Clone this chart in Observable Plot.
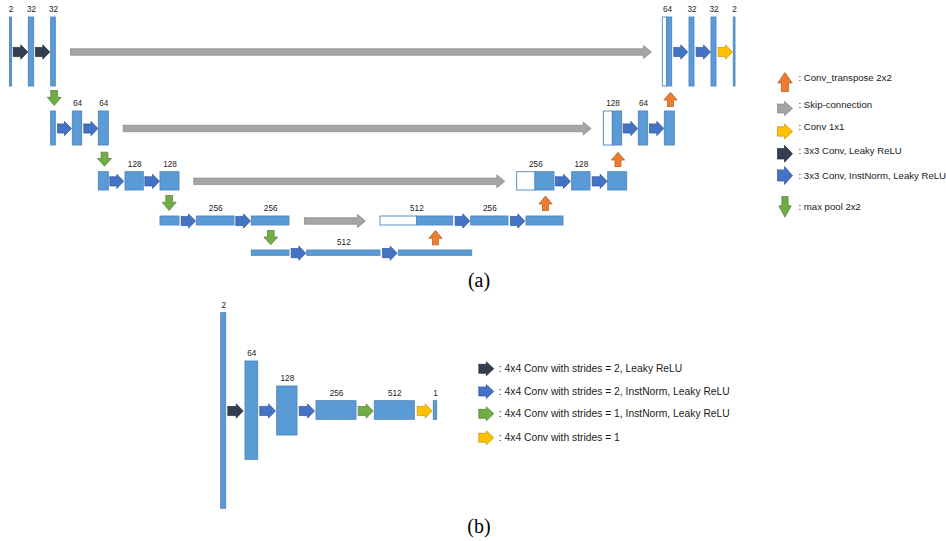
<!DOCTYPE html>
<html><head><meta charset="utf-8">
<script src="https://cdn.jsdelivr.net/npm/d3@7"></script>
<script src="https://cdn.jsdelivr.net/npm/@observablehq/plot@0.6"></script>
<style>body{margin:0;background:#fff}</style>
</head><body><div id="chart"></div>
<script>
// ---------- (a) U-Net generator ----------
const levelTop    = [17, 111, 171.7, 216, 250];
const levelBottom = [86, 145, 190, 225, 255.3];

// feature-map blocks: level, left, right, channels; "split" = end of the white (skip) part
const uBlocks = [
  {lv:0, x1:9.5,   x2:11.5,  label:"2"},
  {lv:0, x1:28.3,  x2:33.7,  label:"32"},
  {lv:0, x1:50.7,  x2:55.3,  label:"32"},
  {lv:0, x1:662.3, split:666.7, x2:671.7, label:"64"},
  {lv:0, x1:689,   x2:694,   label:"32"},
  {lv:0, x1:711,   x2:716,   label:"32"},
  {lv:0, x1:733.3, x2:735,   label:"2"},
  {lv:1, x1:50.7,  x2:55.3,  label:""},
  {lv:1, x1:72.3,  x2:81.7,  label:"64"},
  {lv:1, x1:98.3,  x2:108.3, label:"64"},
  {lv:1, x1:603.3, split:612.3, x2:621.7, label:"128"},
  {lv:1, x1:638.3, x2:647.7, label:"64"},
  {lv:1, x1:664.3, x2:674.3, label:""},
  {lv:2, x1:98.3,  x2:108.3, label:""},
  {lv:2, x1:125,   x2:143.3, label:"128"},
  {lv:2, x1:160,   x2:179,   label:"128"},
  {lv:2, x1:516.7, split:535, x2:554, label:"256"},
  {lv:2, x1:571.7, x2:590,   label:"128"},
  {lv:2, x1:607.7, x2:626.7, label:""},
  {lv:3, x1:160,   x2:179,   label:""},
  {lv:3, x1:196.3, x2:234,   label:"256"},
  {lv:3, x1:251.3, x2:289,   label:"256"},
  {lv:3, x1:380,   split:416.7, x2:452.7, label:"512"},
  {lv:3, x1:470.7, x2:508,   label:"256"},
  {lv:3, x1:526,   x2:563,   label:""},
  {lv:4, x1:251.3, x2:289,   label:""},
  {lv:4, x1:306.7, x2:380,   label:"512"},
  {lv:4, x1:398.3, x2:471.7, label:""}
];

// horizontal conv arrows: level, start, end, kind
const uConvArrows = [
  {lv:0, x1:12.7,  x2:27.3,  kind:"dark"},
  {lv:0, x1:35,    x2:49.3,  kind:"dark"},
  {lv:0, x1:673.3, x2:687.3, kind:"blue"},
  {lv:0, x1:695.7, x2:710,   kind:"blue"},
  {lv:0, x1:717.7, x2:732,   kind:"yellow"},
  {lv:1, x1:57,    x2:71,    kind:"blue"},
  {lv:1, x1:83.3,  x2:97.5,  kind:"blue"},
  {lv:1, x1:622.7, x2:637.3, kind:"blue"},
  {lv:1, x1:649,   x2:663.3, kind:"blue"},
  {lv:2, x1:109.3, x2:123.3, kind:"blue"},
  {lv:2, x1:144.3, x2:159,   kind:"blue"},
  {lv:2, x1:555,   x2:570,   kind:"blue"},
  {lv:2, x1:591.7, x2:606.7, kind:"blue"},
  {lv:3, x1:180.7, x2:195,   kind:"blue"},
  {lv:3, x1:235.3, x2:250,   kind:"blue"},
  {lv:3, x1:454.7, x2:469.3, kind:"blue"},
  {lv:3, x1:510,   x2:524.3, kind:"blue"},
  {lv:4, x1:290.7, x2:305.3, kind:"blue"},
  {lv:4, x1:382,   x2:396.7, kind:"blue"}
];

// skip connections: level, start, end
const uSkips = [
  {lv:0, x1:70,    x2:651},
  {lv:1, x1:122.7, x2:590.7},
  {lv:2, x1:193.3, x2:504.3},
  {lv:3, x1:304,   x2:365}
];

// max pool (down) and transpose conv (up): centre x, base y, tip y
const uPools = [
  {x:53.7,  base:90,    tip:105},
  {x:104,   base:151.7, tip:165.7},
  {x:168.7, base:195,   tip:210},
  {x:270.3, base:230,   tip:244.3}
];
const uUps = [
  {x:435,   base:244.3, tip:230},
  {x:545,   base:210,   tip:195.5},
  {x:617.5, base:166,   tip:151.7},
  {x:670,   base:106,   tip:91.7}
];

// ---------- (b) discriminator ----------
const dBlocks = [
  {x1:220.7, x2:225.7, y1:312.7, y2:508.3, label:"2"},
  {x1:245,   x2:257.7, y1:361,   y2:459.3, label:"64"},
  {x1:276.7, x2:297,   y1:386,   y2:435,   label:"128"},
  {x1:316,   x2:356,   y1:400.7, y2:419.3, label:"256"},
  {x1:374.3, x2:414.3, y1:400.7, y2:419.3, label:"512"},
  {x1:433.3, x2:436.7, y1:400.7, y2:419.3, label:"1"}
];
const dAxisY = 410.5;
const dArrows = [
  {x1:227.3, x2:242.7, kind:"dark"},
  {x1:259.3, x2:275,   kind:"blue"},
  {x1:298.7, x2:314,   kind:"blue"},
  {x1:357.7, x2:372.7, kind:"green"},
  {x1:416.7, x2:431.7, kind:"yellow"}
];

// ---------- legends ----------
const legendA = [
  {kind:"orange", dir:"up",    y1:91,    y2:72,    h:14.5, ty:77.3,  text:": Conv_transpose 2x2"},
  {kind:"gray",   dir:"right", y:108,    h:14.3,   ty:104.3, text:": Skip-connection"},
  {kind:"yellow", dir:"right", y:131,    h:15,     ty:126,   text:": Conv 1x1"},
  {kind:"dark",   dir:"right", y:153.3,  h:16.7,   ty:150.7, text:": 3x3 Conv, Leaky ReLU"},
  {kind:"blue",   dir:"right", y:175,    h:18,     ty:175,   text:": 3x3 Conv, InstNorm, Leaky ReLU"},
  {kind:"green",  dir:"down",  y1:196,   y2:216.7, h:12.4, ty:206,   text:": max pool 2x2"}
];
const legendAX = [777, 792, 798];
const legendB = [
  {kind:"dark",   y:368.3, text:": 4x4 Conv with strides = 2, Leaky ReLU"},
  {kind:"blue",   y:391,   text:": 4x4 Conv with strides = 2, InstNorm, Leaky ReLU"},
  {kind:"green",  y:413.3, text:": 4x4 Conv with strides = 1, InstNorm, Leaky ReLU"},
  {kind:"yellow", y:437.3, text:": 4x4 Conv with strides = 1"}
];
const legendBX = [478.3, 493.3, 498.3];

const captions = [
  {x:478.5, y:286, text:"(a)"},
  {x:478.5, y:532.5, text:"(b)"}
];

// ---------- colours ----------
const kinds = {
  dark:   {fill:"#333f50", stroke:"#222a35"},
  blue:   {fill:"#4472c4", stroke:"#2f5597"},
  yellow: {fill:"#ffc000", stroke:"#c59300"},
  green:  {fill:"#70ad47", stroke:"#507e32"},
  orange: {fill:"#ed7d31", stroke:"#ae5a21"},
  gray:   {fill:"#a5a5a5", stroke:"#878787"}
};
const blockFill = "#5b9bd5", blockStroke = "#4f86bd";

// ---------- geometry helpers ----------
const pts = [];
let nid = 0;
function rightArrow(kind, x1, x2, yc, h, shaftRatio, headLen) {
  const id = nid++, s = h * shaftRatio / 2, L = Math.min(headLen, (x2 - x1) * 0.6), hx = x2 - L;
  [[x1, yc - s], [hx, yc - s], [hx, yc - h / 2], [x2, yc], [hx, yc + h / 2], [hx, yc + s], [x1, yc + s], [x1, yc - s]]
    .forEach(([x, y]) => pts.push({id, kind, x, y}));
}
function vertArrow(kind, xc, base, tip, w, shaftRatio) {
  const id = nid++, s = w * shaftRatio / 2, dir = Math.sign(base - tip), L = Math.abs(base - tip) * 0.55, hb = tip + dir * L;
  [[xc - s, base], [xc - s, hb], [xc - w / 2, hb], [xc, tip], [xc + w / 2, hb], [xc + s, hb], [xc + s, base], [xc - s, base]]
    .forEach(([x, y]) => pts.push({id, kind, x, y}));
}
const mid = lv => (levelTop[lv] + levelBottom[lv]) / 2;

uConvArrows.forEach(a => rightArrow(a.kind, a.x1, a.x2, mid(a.lv), 14.3, 0.64, 7));
uSkips.forEach(a => rightArrow("gray", a.x1, a.x2, mid(a.lv), 13, 0.5, 8));
uPools.forEach(a => vertArrow("green", a.x, a.base, a.tip, 14, 0.48));
uUps.forEach(a => vertArrow("orange", a.x, a.base, a.tip, 13.4, 0.45));
dArrows.forEach(a => rightArrow(a.kind, a.x1, a.x2, dAxisY, 14.3, 0.64, 7));
legendA.forEach(a => {
  const xc = (legendAX[0] + legendAX[1]) / 2;
  if (a.dir === "right") rightArrow(a.kind, legendAX[0], legendAX[1], a.y, a.h, 0.62, 8);
  else vertArrow(a.kind, xc, a.y1, a.y2, a.h, 0.5);
});
legendB.forEach(a => rightArrow(a.kind, legendBX[0], legendBX[1], a.y, 14, 0.64, 7.5));

// rectangles
const blueRects = [], whiteRects = [], labels = [];
uBlocks.forEach(b => {
  const y1 = levelTop[b.lv], y2 = levelBottom[b.lv];
  if (b.split != null) {
    whiteRects.push({x1:b.x1, x2:b.split, y1, y2});
    blueRects.push({x1:b.split, x2:b.x2, y1, y2});
  } else blueRects.push({x1:b.x1, x2:b.x2, y1, y2});
  if (b.label) labels.push({x:(b.x1 + b.x2) / 2, y:y1 - 5.2, text:b.label});
});
dBlocks.forEach(b => {
  blueRects.push({x1:b.x1, x2:b.x2, y1:b.y1, y2:b.y2});
  labels.push({x:(b.x1 + b.x2) / 2, y:b.y1 - 5.2, text:b.label});
});

const arrowMarks = Object.keys(kinds).map(k =>
  Plot.line(pts.filter(p => p.kind === k), {x:"x", y:"y", z:"id", fill:kinds[k].fill, stroke:kinds[k].stroke, strokeWidth:0.7, strokeLinejoin:"miter"})
);

const svg = Plot.plot({
  width:946, height:541, margin:0,
  x:{domain:[0,946], range:[0,946], axis:null},
  y:{domain:[0,541], range:[0,541], axis:null},
  style:{fontFamily:"'Liberation Sans', Arial, sans-serif", background:"#fff"},
  marks:[
    Plot.rect(whiteRects, {x1:"x1", x2:"x2", y1:"y1", y2:"y2", fill:"#fff", stroke:blockStroke, strokeWidth:0.9}),
    Plot.rect(blueRects, {x1:"x1", x2:"x2", y1:"y1", y2:"y2", fill:blockFill, stroke:blockStroke, strokeWidth:0.9}),
    ...arrowMarks,
    Plot.text(labels, {x:"x", y:"y", text:"text", fontSize:8.2, fill:"#1a1a1a", lineAnchor:"bottom"}),
    Plot.text(legendA, {x:() => legendAX[2], y:"ty", text:"text", fontSize:9.6, fill:"#1a1a1a", textAnchor:"start"}),
    Plot.text(legendB, {x:() => legendBX[2], y:"y", text:"text", fontSize:10.3, fill:"#1a1a1a", textAnchor:"start"}),
    Plot.text(captions, {x:"x", y:"y", text:"text", fontSize:20, fill:"#000", lineAnchor:"bottom", fontFamily:"'Liberation Serif', 'Times New Roman', serif", ariaLabel:"caption"})
  ]
});
d3.select(svg).selectAll('g[aria-label="caption"] text').attr("textLength", 28.5).attr("lengthAdjust", "spacingAndGlyphs");
document.getElementById("chart").appendChild(svg);
</script></body></html>
